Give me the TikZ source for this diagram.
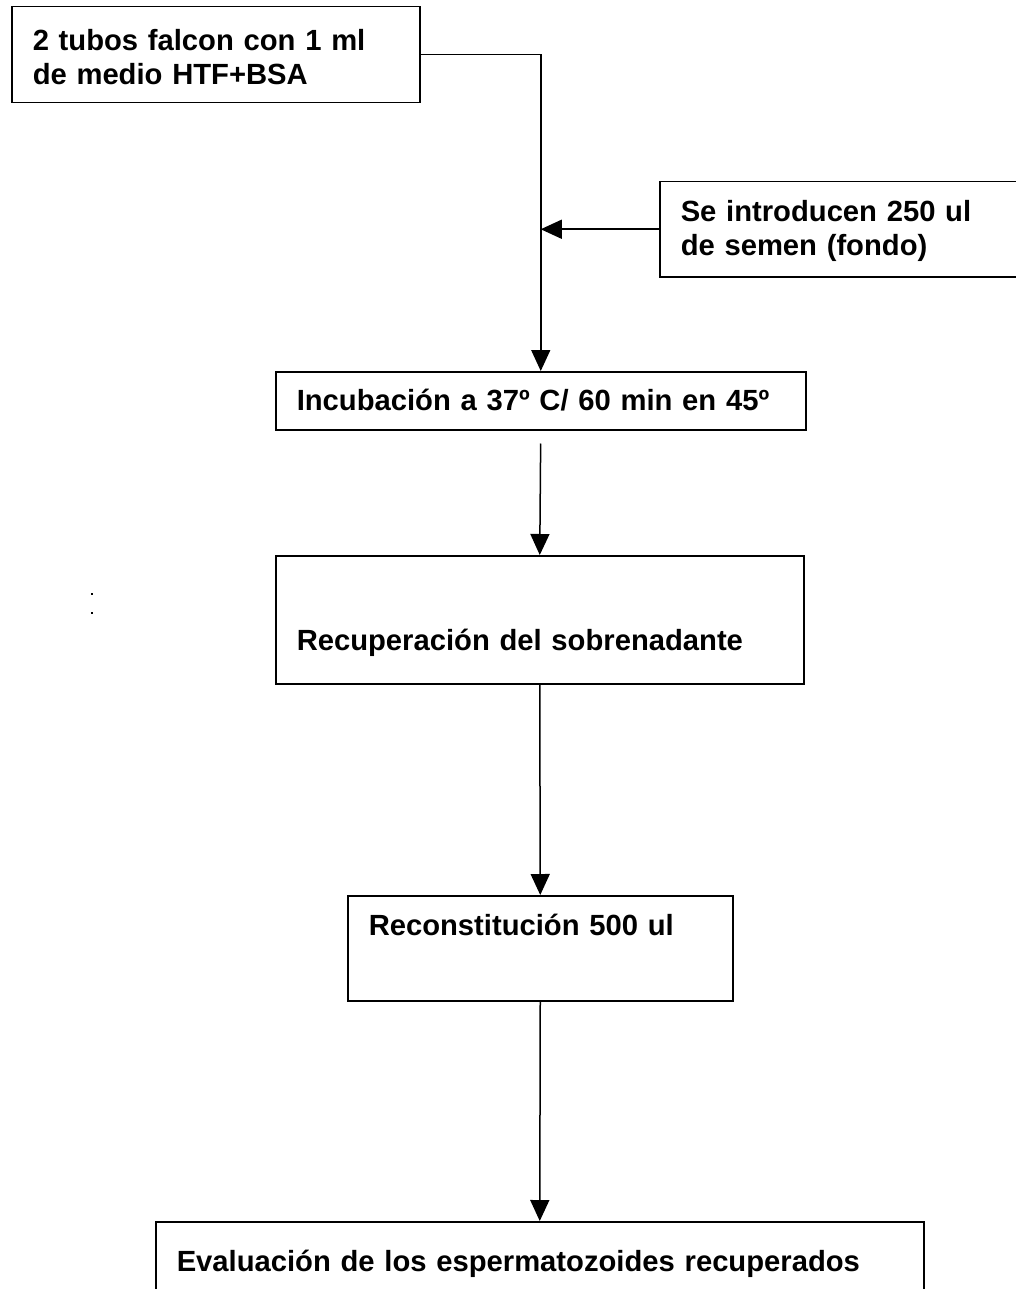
\documentclass[tikz,border=0pt]{standalone}
\usepackage{fontspec}
\setmainfont{Liberation Sans}
\usepackage{tikz}
\usetikzlibrary{arrows.meta,positioning,calc}

\begin{document}
\begin{tikzpicture}[
    x=1pt, y=-1pt,
    stepbox/.style={rectangle, draw=black, line width=1.5pt, anchor=north west,
                    inner xsep=21pt, inner ysep=0pt, align=left,
                    font=\fontsize{29.2}{33.5}\selectfont\bfseries},
    arrow/.style={-{Triangle[length=21pt,width=19pt]}, line width=1.5pt}
]
\useasboundingbox (0,0) rectangle (1015,1289);

% Start box
\node[stepbox, text width=366pt, text height=44pt, text depth=52pt] (tubos) at (11,6)
    {2 tubos falcon con 1 ml\\de medio HTF+BSA};

% Semen added from the right
\node[stepbox, text width=339pt, text height=40pt, text depth=55pt] (semen) at (659,181)
    {Se introducen 250 ul\\de semen (fondo)};

% Steps down the middle
\node[stepbox, text width=488pt, text height=39pt, text depth=19pt] (incub) at (275,371)
    {Incubación a 37º C/ 60 min en 45º};
\node[stepbox, text width=486pt, text height=95pt, text depth=33pt] (recup) at (275,555)
    {Recuperación del sobrenadante};
\node[stepbox, text width=343pt, text height=40pt, text depth=65pt] (recon) at (347,895)
    {Reconstitución 500 ul};
\node[stepbox, text width=726pt, text height=50pt, text depth=120pt] (eval) at (155,1221)
    {Evaluación de los espermatozoides recuperados};

% Stray marks at left
\fill (91,593) rectangle (93,595);
\fill (91,612) rectangle (93,614);

% Connections
\coordinate (join) at (semen.west -| incub.north);
\draw[arrow] (tubos.east) -| (incub.north);
\draw[arrow] (semen.west) -- (join);
\draw[arrow, shorten <=13pt] (incub.south) -- (recup.north);
\draw[arrow] (recup.south) -- (recon.north);
\draw[arrow] (recon.south) -- (eval.north);

\end{tikzpicture}
\end{document}
